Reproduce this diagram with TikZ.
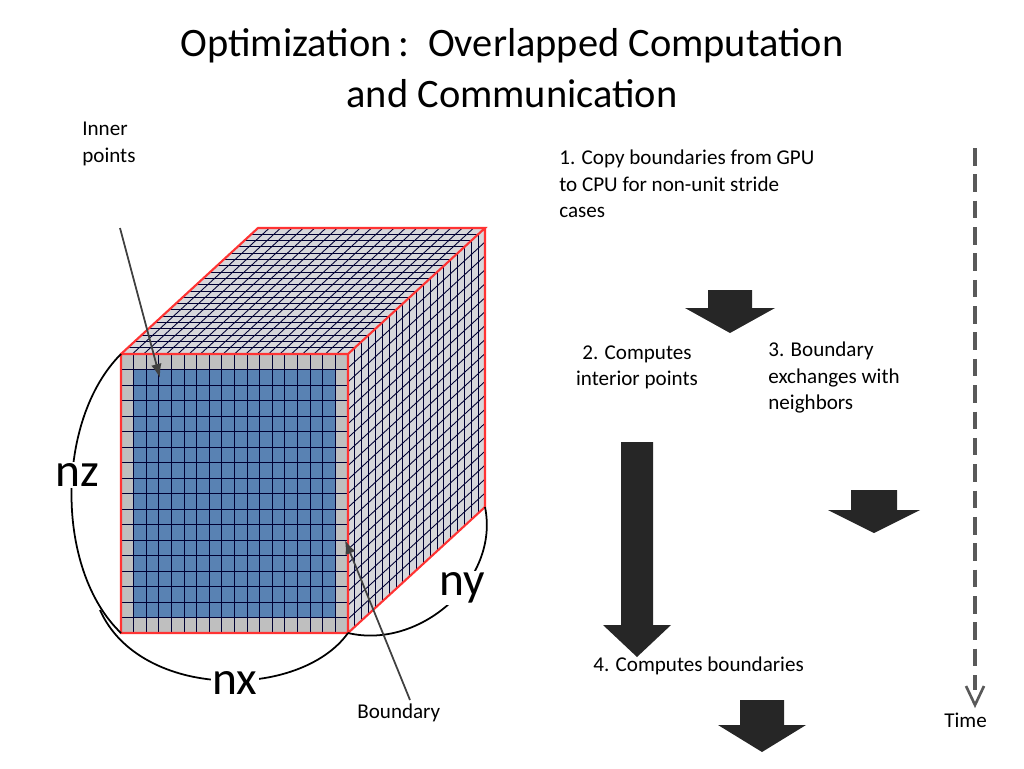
\documentclass[tikz,border=0pt]{standalone}
\usepackage{fontspec}
\setmainfont{Carlito}
\usetikzlibrary{positioning,arrows.meta,calc}

% block arrow: centre x, shaft top, head top, tip, shaft half width, head half width
\newcommand{\blockarr}[6]{%
  \fill[arrowfill] (#1-#5,#2) -- (#1+#5,#2) -- (#1+#5,#3) -- (#1+#6,#3)
    -- (#1,#4) -- (#1-#6,#3) -- (#1-#5,#3) -- cycle;}

\begin{document}
\begin{tikzpicture}[x=0.02cm,y=-0.02cm,
    txt/.style={font=\fontsize{12}{15}\selectfont, align=left, anchor=north west, inner sep=0pt},
    dimlabel/.style={font=\fontsize{27}{27}\selectfont, fill=white, inner sep=1pt},
    gridline/.style={draw=black!80!blue, line width=0.5pt}]
    \useasboundingbox (0,0) rectangle (1024,768);
    \colorlet{arrowfill}{black!85}

    % title
    \node[font=\fontsize{23}{29}\selectfont, align=center] (title) at (512,68)
        {Optimization\,:\, Overlapped Computation\\and Communication};

    % cube corners
    \coordinate (A) at (121,354);
    \coordinate (B) at (348,354);
    \coordinate (C) at (348,633);
    \coordinate (D) at (121,633);
    \coordinate (E) at (258,228);
    \coordinate (F) at (485,228);
    \coordinate (G) at (485,507);

    % top and right faces
    \fill[blue!5!gray!30] (A) -- (E) -- (F) -- (B) -- cycle;
    \fill[blue!5!gray!30] (B) -- (F) -- (G) -- (C) -- cycle;
    \foreach \i in {1,...,19} {
        \draw[gridline] ($(A)!\i/20!(B)$) -- ($(E)!\i/20!(F)$);
        \draw[gridline] ($(A)!\i/20!(E)$) -- ($(B)!\i/20!(F)$);
        \draw[gridline] ($(B)!\i/20!(F)$) -- ($(C)!\i/20!(G)$);
        \draw[gridline] ($(B)!\i/20!(C)$) -- ($(F)!\i/20!(G)$);
    }

    % front face
    \fill[gray!50] (A) rectangle (C);
    \fill[cyan!55!blue!75!black!80] (133.6,369.5) rectangle (335.4,617.5);
    \foreach \i in {1,...,17} {
        \draw[gridline] (121+\i*12.61,354) -- (121+\i*12.61,633);
        \draw[gridline] (121,354+\i*15.5) -- (348,354+\i*15.5);
    }
    \draw[red!80, line width=1.2pt] (A) -- (B) -- (C) -- (D) -- cycle
        (A) -- (E) -- (F) -- (B) (F) -- (G) -- (C);

    % dimension arcs
    \draw[line width=1pt] (121,354) .. controls (55,420) and (55,570) .. (121,633);
    \draw[line width=1pt] (100,610) .. controls (140,700) and (300,700) .. (348,633);
    \draw[line width=1pt] (485,507) .. controls (500,580) and (420,650) .. (348,633);
    \node[dimlabel] (nz) at (77,475) {nz};
    \node[dimlabel] (nx) at (235,683) {nx};
    \node[dimlabel] (ny) at (462,588) {ny};

    % labels with pointers
    \node[txt] (inner) at (82,122) {Inner\\points};
    \node[txt] (bound) at (357,703) {Boundary};
    \coordinate (innerpt) at (160,378);
    \coordinate (boundpt) at (345,540);
    \draw[-{Latex[length=8pt]}, black!75, line width=1pt] (120,228) -- (innerpt);
    \draw[-{Latex[length=8pt]}, black!75, line width=1pt] (410,700) -- (boundpt);

    % steps
    \node[txt] (s1) at (559,150) {1. Copy boundaries from GPU\\to CPU for non-unit stride\\cases};
    \node[txt, align=center, anchor=north] (s2) at (637,345) {2. Computes\\interior points};
    \node[txt] (s3) at (768,342) {3. Boundary\\exchanges with\\neighbors};
    \node[txt] (s4) at (593,656) {4. Computes boundaries};
    \blockarr{730}{290}{308}{333}{22}{45}
    \blockarr{637}{442}{625}{657}{16}{34}
    \blockarr{874}{490}{510}{533}{23}{46}
    \blockarr{762}{700}{725}{752}{22}{44}

    % time axis
    \coordinate (t0) at (975,148);
    \coordinate (t1) at (975,705);
    \draw[dashed, dash pattern=on 10pt off 5pt, line width=2pt, black!65] (t0) -- (975,690);
    \draw[black!65, line width=1.5pt] (966,686) -- (t1) -- (984,686);
    \node[txt] (time) at (944,713) {Time};
\end{tikzpicture}
\end{document}
